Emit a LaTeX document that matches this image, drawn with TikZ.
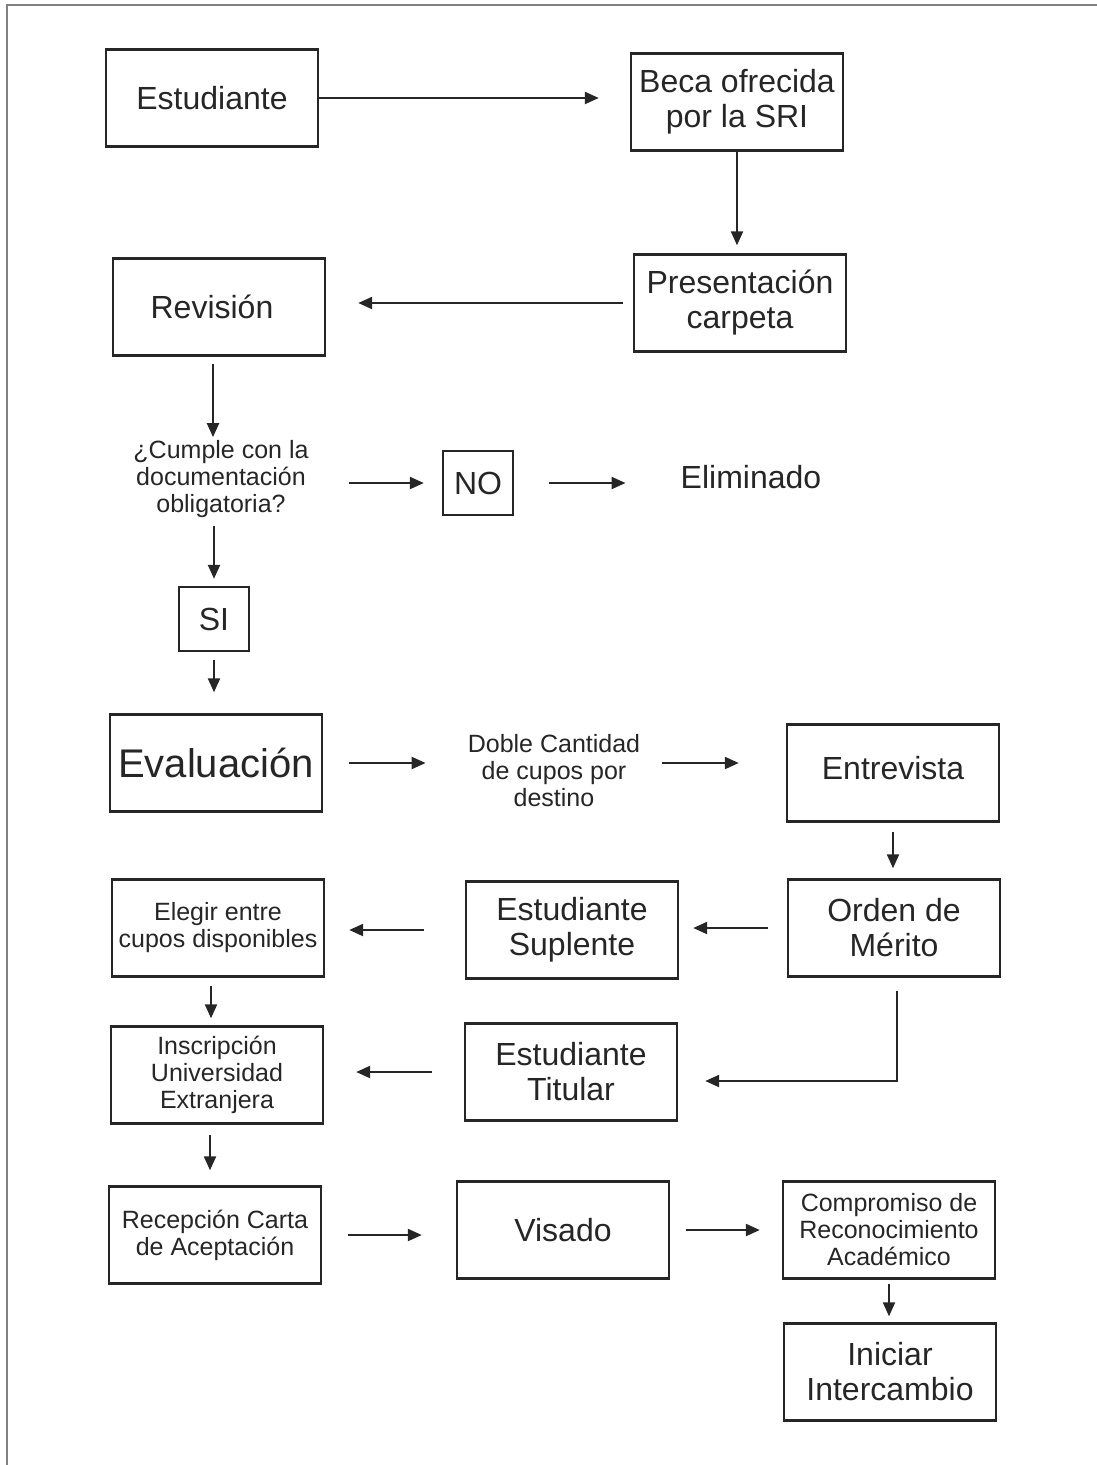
\documentclass[tikz,border=0pt]{standalone}
\usepackage{fontspec}
\setmainfont{Liberation Sans}
\usetikzlibrary{arrows.meta}
\definecolor{linea}{HTML}{262626}
\tikzset{>={Triangle[length=14pt,width=12pt]}}
\tikzset{
  caja/.style={draw=linea, line width=2.4pt, text=linea, minimum width=212pt, minimum height=97pt,
    align=center, inner sep=2pt, font=\fontsize{32}{35}\selectfont},
  cajachica/.style={caja, font=\fontsize{25}{27}\selectfont},
  cuadro/.style={draw=linea, line width=2.4pt, text=linea, minimum width=70pt, minimum height=64pt,
    inner sep=2pt, font=\fontsize{32}{35}\selectfont},
  texto/.style={align=center, inner sep=0pt, text=linea, font=\fontsize{25}{27}\selectfont},
  flecha/.style={->, line width=2.2pt, draw=linea},
}

\begin{document}
\begin{tikzpicture}[x=1pt,y=-1pt]
  \useasboundingbox (0,0) rectangle (1097,1465);
  \draw[gray, line width=1.5pt] (7,1465) -- (7,5) -- (1097,5);

  % cajas
  \node[caja] (est) at (212,98) {Estudiante};
  \node[caja] (beca) at (737,102) {Beca ofrecida\\por la SRI};
  \node[caja] (pres) at (740,303) {Presentación\\carpeta};
  \node[caja] (rev) at (219,307) {\hspace*{-14pt}Revisión};
  \node[texto] (preg) at (221,479) {¿Cumple con la\\documentación\\obligatoria?};
  \node[cuadro] (no) at (478,483) {NO};
  \node[texto, font=\fontsize{32}{35}\selectfont] (elim) at (751,477) {Eliminado};
  \node[cuadro] (si) at (214,619) {SI};
  \node[caja, font=\fontsize{40}{44}\selectfont] (eval) at (216,763) {Evaluación};
  \node[texto] (doble) at (554,771) {Doble Cantidad\\de cupos por\\destino};
  \node[caja] (entr) at (893,773) {\raisebox{10pt}{Entrevista}};
  \node[caja] (orden) at (894,928) {Orden de\\Mérito};
  \node[caja] (supl) at (572,930) {Estudiante\\Suplente};
  \node[cajachica] (eleg) at (218,928) {Elegir entre\\cupos disponibles};
  \node[cajachica] (insc) at (217,1075) {Inscripción\\Universidad\\Extranjera};
  \node[caja] (tit) at (571,1072) {Estudiante\\Titular};
  \node[cajachica] (recep) at (215,1235) {Recepción Carta\\de Aceptación};
  \node[caja] (vis) at (563,1230) {Visado};
  \node[cajachica] (comp) at (889,1230) {Compromiso de\\Reconocimiento\\Académico};
  \node[caja] (inic) at (890,1372) {Iniciar\\Intercambio};

  % flechas
  \draw[flecha, shorten >=31pt] (est.east) -- (beca.west |- est.east);
  \draw[flecha, shorten >=8pt] (beca.south) -- (beca.south |- pres.north);
  \draw[flecha, shorten <=10pt, shorten >=32pt] (pres.west) -- (rev.east |- pres.west);
  \draw[flecha, shorten <=7pt, shorten >=3pt] ([xshift=-6pt]rev.south) -- ([xshift=-6pt]rev.south |- preg.north);
  \draw[flecha, shorten <=40pt, shorten >=18pt] (preg.east |- no.west) -- (no.west);
  \draw[flecha, shorten <=35pt, shorten >=55pt] (no.east) -- (elim.west |- no.east);
  \draw[flecha, shorten <=8pt, shorten >=7pt] (si.north |- preg.south) -- (si.north);
  \draw[flecha, shorten <=8pt, shorten >=21pt] (si.south) -- (si.south |- eval.north);
  \draw[flecha, shorten <=26pt, shorten >=42pt] (eval.east) -- (doble.west |- eval.east);
  \draw[flecha, shorten <=22pt, shorten >=47pt] (doble.east |- eval.east) -- (entr.west |- eval.east);
  \draw[flecha, shorten <=9pt, shorten >=10pt] (entr.south) -- (entr.south |- orden.north);
  \draw[flecha, shorten <=19pt, shorten >=14pt] (orden.west) -- (supl.east |- orden.west);
  \draw[flecha, shorten <=41pt, shorten >=24pt] (supl.west) -- (eleg.east |- supl.west);
  \draw[flecha, shorten <=13pt, shorten >=27pt] ([xshift=3pt]orden.south) |- ([yshift=-9pt]tit.east);
  \draw[flecha, shorten <=8pt, shorten >=7pt] ([xshift=-7pt]eleg.south) -- ([xshift=-7pt]eleg.south |- insc.north);
  \draw[flecha, shorten <=32pt, shorten >=32pt] (tit.west) -- (insc.east |- tit.west);
  \draw[flecha, shorten <=10pt, shorten >=15pt] ([xshift=-7pt]insc.south) -- ([xshift=-7pt]insc.south |- recep.north);
  \draw[flecha, shorten <=26pt, shorten >=34pt] (recep.east) -- (vis.west |- recep.east);
  \draw[flecha, shorten <=16pt, shorten >=22pt] (vis.east) -- (comp.west |- vis.east);
  \draw[flecha, shorten <=4pt, shorten >=6pt] (comp.south) -- (comp.south |- inic.north);
\end{tikzpicture}
\end{document}
